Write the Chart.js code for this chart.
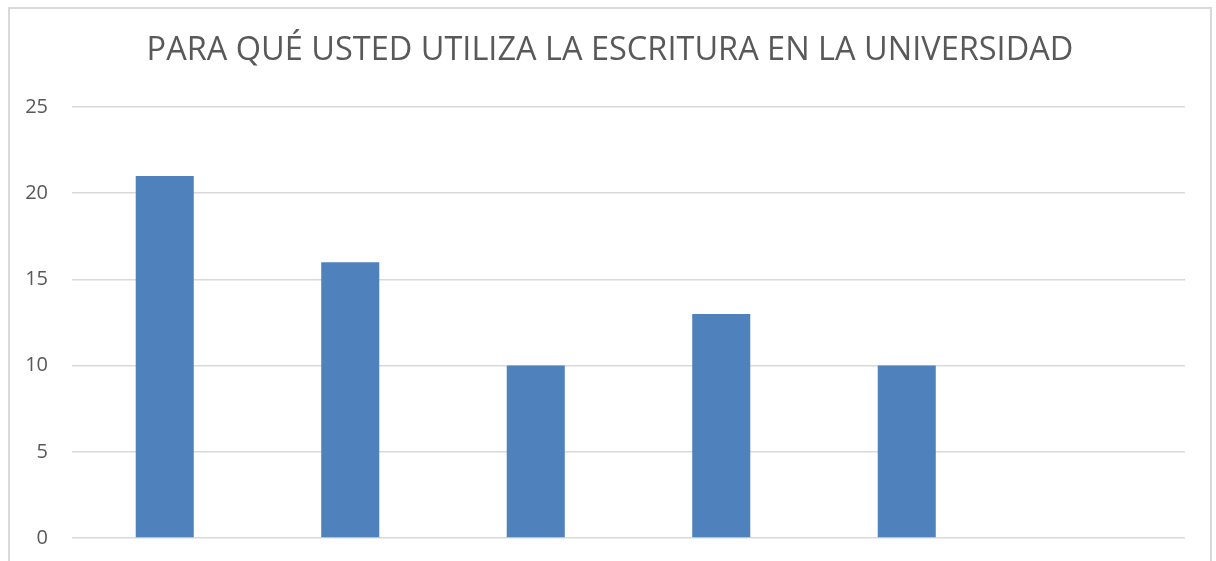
<!DOCTYPE html>
<html>
<head>
<meta charset="utf-8">
<script src="https://cdn.jsdelivr.net/npm/chart.js@4"></script>
<style>
  body { margin: 0; background: #fff; overflow: hidden; }
  #marco {
    position: absolute; left: 8px; top: 7px; width: 1204px; height: 600px;
    border: 2px solid #d9d9d9; box-sizing: border-box;
  }
  #grafico { position: absolute; left: 0; top: 0; }
</style>
</head>
<body>
<div id="marco"></div>
<canvas id="grafico" width="1216" height="574"></canvas>
<script>
const titulo = 'PARA QUÉ USTED UTILIZA LA ESCRITURA EN LA UNIVERSIDAD';
const categorias = ['', '', '', '', '', ''];
const valores = [21, 16, 10, 13, 10, null];
const ticksY = [0, 5, 10, 15, 20, 25];

document.addEventListener('DOMContentLoaded', function() {
  const ctx = document.getElementById('grafico').getContext('2d');

  new Chart(ctx, {
    type: 'bar',
    data: {
      labels: categorias,
      datasets: [{
        data: valores,
        backgroundColor: '#4f81bd',
        borderWidth: 0,
        categoryPercentage: 1,
        barPercentage: 0.313
      }]
    },
    options: {
      responsive: false,
      animation: false,
      layout: { padding: { left: 4, right: 0, top: 0, bottom: 11 } },
      plugins: {
        legend: { display: false },
        tooltip: { enabled: false },
        title: {
          display: true,
          text: titulo,
          color: '#595959',
          font: { family: 'Open Sans', size: 32.5, weight: 'normal' },
          padding: { top: 31, bottom: 37 }
        }
      },
      scales: {
        x: {
          ticks: { display: false },
          grid: { display: false, drawTicks: false },
          border: { display: false }
        },
        y: {
          min: 0,
          max: 25,
          afterBuildTicks: function(scale) {
            scale.ticks = ticksY.map(v => ({ value: v }));
          },
          afterFit: function(scale) { scale.width = 68; },
          ticks: {
            color: '#595959',
            font: { family: 'Open Sans', size: 20 },
            padding: 24
          },
          grid: { color: '#d9d9d9', lineWidth: 1.5, drawTicks: false },
          border: { display: false }
        },
        derecha: {
          position: 'right',
          min: 0,
          max: 25,
          afterFit: function(scale) { scale.width = 31; },
          ticks: { display: false },
          grid: { display: false, drawTicks: false },
          border: { display: false }
        }
      }
    }
  });
});
</script>
</body>
</html>
